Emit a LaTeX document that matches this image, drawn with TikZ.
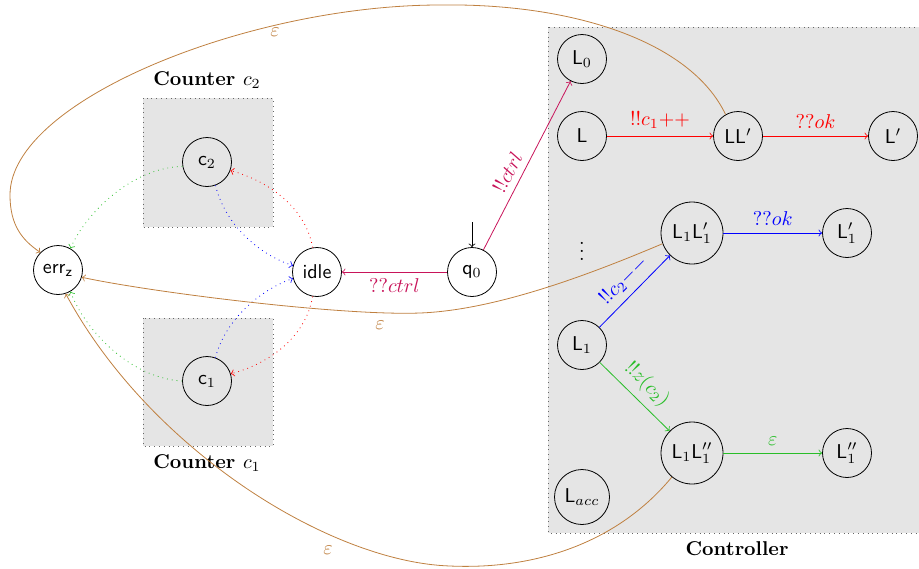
\documentclass[tikz,border=0pt]{standalone}
\begin{document}
\definecolor{mygreen}{RGB}{40,190,40}
\definecolor{mypurple}{RGB}{200,20,90}
\begin{tikzpicture}[x=0.5pt,y=-0.5pt,
  st/.style={circle,draw,minimum size=24.5pt,inner sep=0pt,font=\sffamily},
  bigst/.style={st,minimum size=31pt},
  box/.style={draw=black!60,dotted,fill=gray!20},
  ttl/.style={font=\bfseries},
  >=to]
\useasboundingbox (0,0) rectangle (919,568);
% boxes
\draw[box] (143,98) rectangle (273,227);
\draw[box] (143,318) rectangle (273,446);
\draw[box] (548,27) rectangle (919,533);
\node[ttl] (t2) at (207,80) {Counter $c_2$};
\node[ttl] (t1) at (207,463) {Counter $c_1$};
\node[ttl] (tc) at (737,549) {Controller};
% nodes
\node[st] (err) at (58,270) {err$_{\mathsf{z}}$};
\node[st] (c2) at (207,162) {c$_2$};
\node[st] (c1) at (207,381) {c$_1$};
\node[st] (idle) at (317,272) {idle};
\node[st] (q0) at (472,272) {q$_0$};
\node[st] (L0) at (582,59) {L$_0$};
\node[st] (L) at (582,136) {L};
\node[st] (LL) at (738,136) {LL$'$};
\node[st] (Lp) at (893,136) {L$'$};
\node (dots) at (582,245) {$\vdots$};
\node[bigst] (L1L1p) at (692,233) {L$_1$L$_1'$};
\node[st] (L1p) at (847,233) {L$_1'$};
\node[st] (L1) at (582,345) {L$_1$};
\node[bigst] (L1L1pp) at (692,453) {L$_1$L$_1''$};
\node[st] (L1pp) at (847,453) {L$_1''$};
\node[st,minimum size=27.5pt] (Lacc) at (582,497) {L$_{acc}$};
% initial
\coordinate (q0in) at (472,222);
\draw[->] (q0in) -- (q0);
% controller edges
\draw[mypurple,->] (q0) -- node[below]{$??ctrl$} (idle);
\draw[mypurple,->] (q0) -- node[sloped,above,pos=0.42]{$!!ctrl$} (L0);
\draw[red,->] (L) -- node[above]{$!!c_1{+}{+}$} (LL);
\draw[red,->] (LL) -- node[above]{$??ok$} (Lp);
\draw[blue,->] (L1L1p) -- node[above]{$??ok$} (L1p);
\draw[blue,->] (L1) -- node[sloped,above]{$!!c_2{-}{-}$} (L1L1p);
\draw[mygreen,->] (L1) -- node[sloped,above]{$!!z(c_2)$} (L1L1pp);
\draw[mygreen,->] (L1L1pp) -- node[above]{$\varepsilon$} (L1pp);
% counter edges
\draw[mygreen,dotted,->] (c2.190) .. controls (130,168) and (85,215) .. (err.60);
\draw[red,dotted,->] (idle.100) .. controls (305,205) and (265,180) .. (c2.-20);
\draw[blue,dotted,->] (c2.-70) .. controls (225,225) and (260,255) .. (idle.165);
\draw[blue,dotted,->] (c1.70) .. controls (225,320) and (260,290) .. (idle.195);
\draw[red,dotted,->] (idle.-100) .. controls (305,340) and (265,365) .. (c1.17);
\draw[mygreen,dotted,->] (c1.180) .. controls (130,378) and (85,330) .. (err.-60);
% brown epsilon edges
\draw[brown,->] (LL.120) .. controls (690,40) and (570,3) .. (440,5)
   .. controls (250,5) and (10,100) .. (10,195)
   .. controls (10,225) and (22,240) .. (err.135);
\node[brown] (e1) at (275,32) {$\varepsilon$};
\draw[brown,->] (L1L1p.200) .. controls (600,270) and (500,310) .. (420,313)
   .. controls (340,316) and (150,292) .. (err.-17);
\node[brown] (e2) at (380,325) {$\varepsilon$};
\draw[brown,->] (L1L1pp.230) .. controls (620,540) and (540,570) .. (450,566)
   .. controls (330,562) and (150,450) .. (err.-72);
\node[brown] (e3) at (328,550) {$\varepsilon$};
\end{tikzpicture}
\end{document}
